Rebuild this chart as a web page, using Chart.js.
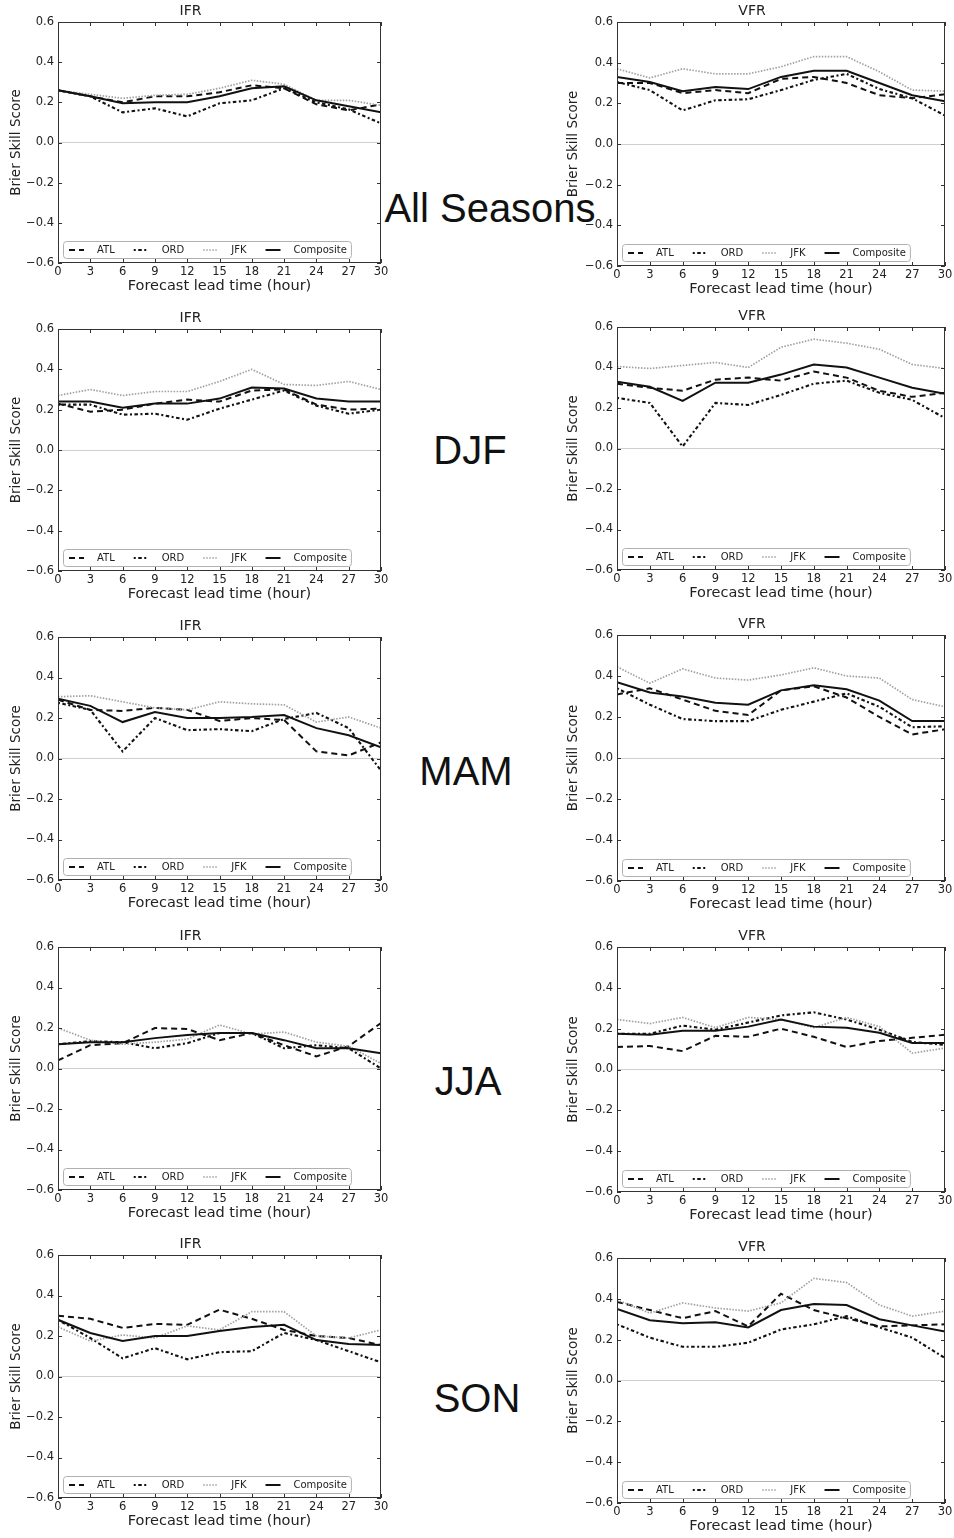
<!DOCTYPE html>
<html>
<head>
<meta charset="utf-8">
<script src="https://cdn.jsdelivr.net/npm/chart.js@4.4.1/dist/chart.umd.min.js"></script>
<style>
  html, body { margin: 0; padding: 0; background: #ffffff; }
  body { width: 954px; height: 1538px; position: relative; overflow: hidden; }
  canvas { position: absolute; }
  .season { position: absolute; font-family: "Liberation Sans", Arial, sans-serif; font-size: 40px; color: #111; transform: translate(-50%, -50%); white-space: nowrap; }
</style>
</head>
<body>
<div class="season" style="left:490px; top:208px;">All Seasons</div>
<div class="season" style="left:470px; top:450px;">DJF</div>
<div class="season" style="left:466px; top:771px;">MAM</div>
<div class="season" style="left:468px; top:1081px;">JJA</div>
<div class="season" style="left:477px; top:1398px;">SON</div>
<script>
// ---------- data ----------
const hours = [0, 3, 6, 9, 12, 15, 18, 21, 24, 27, 30];
const seriesNames = ["ATL", "ORD", "JFK", "Composite"];
const panelTitles = ["IFR", "VFR"];
const seasonNames = ["All Seasons", "DJF", "MAM", "JJA", "SON"];

// All Seasons - IFR
const allIFR_ATL  = [0.26, 0.23, 0.20, 0.23, 0.23, 0.25, 0.285, 0.27, 0.19, 0.16, 0.19];
const allIFR_ORD  = [0.26, 0.23, 0.15, 0.17, 0.13, 0.195, 0.21, 0.27, 0.20, 0.165, 0.095];
const allIFR_JFK  = [0.26, 0.24, 0.22, 0.235, 0.24, 0.27, 0.31, 0.29, 0.21, 0.21, 0.185];
const allIFR_COMP = [0.26, 0.23, 0.195, 0.20, 0.20, 0.23, 0.27, 0.28, 0.21, 0.18, 0.15];
// All Seasons - VFR
const allVFR_ATL  = [0.30, 0.30, 0.25, 0.265, 0.25, 0.32, 0.33, 0.30, 0.24, 0.225, 0.245];
const allVFR_ORD  = [0.305, 0.265, 0.165, 0.215, 0.22, 0.265, 0.315, 0.345, 0.27, 0.225, 0.14];
const allVFR_JFK  = [0.37, 0.325, 0.37, 0.345, 0.345, 0.38, 0.43, 0.43, 0.355, 0.265, 0.26];
const allVFR_COMP = [0.33, 0.305, 0.26, 0.28, 0.27, 0.33, 0.36, 0.36, 0.30, 0.24, 0.21];
// DJF - IFR
const djfIFR_ATL  = [0.23, 0.19, 0.20, 0.23, 0.25, 0.24, 0.295, 0.30, 0.225, 0.20, 0.205];
const djfIFR_ORD  = [0.225, 0.225, 0.175, 0.18, 0.15, 0.205, 0.25, 0.295, 0.22, 0.18, 0.20];
const djfIFR_JFK  = [0.27, 0.30, 0.27, 0.29, 0.29, 0.34, 0.40, 0.325, 0.32, 0.34, 0.30];
const djfIFR_COMP = [0.24, 0.24, 0.21, 0.23, 0.23, 0.255, 0.31, 0.305, 0.255, 0.24, 0.24];
// DJF - VFR
const djfVFR_ATL  = [0.32, 0.30, 0.285, 0.34, 0.35, 0.335, 0.38, 0.35, 0.285, 0.255, 0.275];
const djfVFR_ORD  = [0.25, 0.225, 0.01, 0.225, 0.215, 0.265, 0.32, 0.335, 0.275, 0.24, 0.15];
const djfVFR_JFK  = [0.405, 0.395, 0.41, 0.425, 0.40, 0.50, 0.54, 0.52, 0.49, 0.415, 0.395];
const djfVFR_COMP = [0.33, 0.305, 0.235, 0.325, 0.325, 0.365, 0.415, 0.40, 0.35, 0.30, 0.27];
// MAM - IFR
const mamIFR_ATL  = [0.29, 0.24, 0.235, 0.25, 0.24, 0.185, 0.20, 0.19, 0.035, 0.015, 0.08];
const mamIFR_ORD  = [0.275, 0.24, 0.035, 0.20, 0.14, 0.145, 0.135, 0.195, 0.225, 0.15, -0.06];
const mamIFR_JFK  = [0.305, 0.31, 0.28, 0.25, 0.24, 0.28, 0.27, 0.265, 0.18, 0.205, 0.15];
const mamIFR_COMP = [0.295, 0.26, 0.18, 0.23, 0.20, 0.20, 0.205, 0.215, 0.15, 0.115, 0.055];
// MAM - VFR
const mamVFR_ATL  = [0.31, 0.34, 0.285, 0.23, 0.21, 0.33, 0.35, 0.295, 0.20, 0.115, 0.14];
const mamVFR_ORD  = [0.34, 0.26, 0.19, 0.18, 0.18, 0.235, 0.275, 0.315, 0.25, 0.15, 0.155];
const mamVFR_JFK  = [0.445, 0.365, 0.435, 0.39, 0.38, 0.405, 0.44, 0.40, 0.39, 0.285, 0.25];
const mamVFR_COMP = [0.37, 0.32, 0.30, 0.27, 0.26, 0.33, 0.355, 0.335, 0.28, 0.18, 0.18];
// JJA - IFR
const jjaIFR_ATL  = [0.04, 0.115, 0.125, 0.20, 0.195, 0.14, 0.175, 0.115, 0.06, 0.11, 0.225];
const jjaIFR_ORD  = [0.12, 0.135, 0.13, 0.10, 0.125, 0.175, 0.175, 0.10, 0.115, 0.10, 0.0];
const jjaIFR_JFK  = [0.20, 0.14, 0.12, 0.13, 0.145, 0.215, 0.17, 0.18, 0.13, 0.11, 0.025];
const jjaIFR_COMP = [0.12, 0.13, 0.13, 0.15, 0.165, 0.175, 0.175, 0.14, 0.10, 0.10, 0.075];
// JJA - VFR
const jjaVFR_ATL  = [0.11, 0.115, 0.09, 0.165, 0.16, 0.20, 0.16, 0.11, 0.14, 0.155, 0.17];
const jjaVFR_ORD  = [0.175, 0.175, 0.215, 0.195, 0.23, 0.265, 0.28, 0.245, 0.195, 0.135, 0.12];
const jjaVFR_JFK  = [0.245, 0.225, 0.255, 0.205, 0.255, 0.245, 0.205, 0.255, 0.21, 0.08, 0.105];
const jjaVFR_COMP = [0.175, 0.17, 0.19, 0.19, 0.21, 0.245, 0.21, 0.205, 0.18, 0.13, 0.13];
// SON - IFR
const sonIFR_ATL  = [0.30, 0.285, 0.24, 0.26, 0.255, 0.33, 0.285, 0.23, 0.20, 0.19, 0.155];
const sonIFR_ORD  = [0.28, 0.19, 0.09, 0.14, 0.085, 0.12, 0.125, 0.215, 0.18, 0.125, 0.07];
const sonIFR_JFK  = [0.245, 0.175, 0.205, 0.19, 0.25, 0.23, 0.32, 0.32, 0.20, 0.19, 0.23];
const sonIFR_COMP = [0.28, 0.215, 0.175, 0.20, 0.20, 0.225, 0.245, 0.255, 0.18, 0.16, 0.155];
// SON - VFR
const sonVFR_ATL  = [0.385, 0.345, 0.305, 0.34, 0.265, 0.425, 0.345, 0.305, 0.265, 0.27, 0.275];
const sonVFR_ORD  = [0.275, 0.21, 0.165, 0.165, 0.185, 0.25, 0.275, 0.315, 0.26, 0.21, 0.11];
const sonVFR_JFK  = [0.395, 0.33, 0.38, 0.355, 0.34, 0.38, 0.50, 0.48, 0.37, 0.315, 0.34];
const sonVFR_COMP = [0.35, 0.295, 0.28, 0.285, 0.26, 0.345, 0.375, 0.37, 0.30, 0.27, 0.24];

const panelData = [
  [[allIFR_ATL, allIFR_ORD, allIFR_JFK, allIFR_COMP], [allVFR_ATL, allVFR_ORD, allVFR_JFK, allVFR_COMP]],
  [[djfIFR_ATL, djfIFR_ORD, djfIFR_JFK, djfIFR_COMP], [djfVFR_ATL, djfVFR_ORD, djfVFR_JFK, djfVFR_COMP]],
  [[mamIFR_ATL, mamIFR_ORD, mamIFR_JFK, mamIFR_COMP], [mamVFR_ATL, mamVFR_ORD, mamVFR_JFK, mamVFR_COMP]],
  [[jjaIFR_ATL, jjaIFR_ORD, jjaIFR_JFK, jjaIFR_COMP], [jjaVFR_ATL, jjaVFR_ORD, jjaVFR_JFK, jjaVFR_COMP]],
  [[sonIFR_ATL, sonIFR_ORD, sonIFR_JFK, sonIFR_COMP], [sonVFR_ATL, sonVFR_ORD, sonVFR_JFK, sonVFR_COMP]]
];

// ---------- layout (plot area rectangles) ----------
const colLeft  = [58, 617];
const colRight = [381, 945];
const rowTops    = [[22, 22], [329, 327], [637, 635], [947, 947], [1255, 1258]];
const rowBottoms = [[263, 266], [571, 570], [880, 881], [1190, 1192], [1498, 1503]];

const styles = [
  { color: "#111111", dash: [6, 4], width: 2 },
  { color: "#111111", dash: [2, 2.5, 3.5, 2.5], width: 2.1 },
  { color: "#a0a0a0", dash: [1.5, 1.5], width: 1.7 },
  { color: "#111111", dash: [], width: 2 }
];

const FONT = "'DejaVu Sans', Verdana, sans-serif";
const TXT = "#222222";
const AXIS_W = 58, TITLE_H = 22, XAXIS_H = 32, PAD_R = 12;

const framePlugin = {
  id: "frame",
  afterDraw(chart) {
    const { ctx, chartArea: a, scales } = chart;
    ctx.save();
    ctx.strokeStyle = "#333333";
    ctx.lineWidth = 1;
    ctx.beginPath();
    scales.x.ticks.forEach(t => {
      const px = Math.round(scales.x.getPixelForValue(t.value)) + 0.5;
      ctx.moveTo(px, a.bottom); ctx.lineTo(px, a.bottom - 4);
      ctx.moveTo(px, a.top); ctx.lineTo(px, a.top + 4);
    });
    scales.y.ticks.forEach(t => {
      const py = Math.round(scales.y.getPixelForValue(t.value)) + 0.5;
      ctx.moveTo(a.left, py); ctx.lineTo(a.left + 4, py);
      ctx.moveTo(a.right, py); ctx.lineTo(a.right - 4, py);
    });
    ctx.stroke();
    ctx.strokeRect(Math.round(a.left) + 0.5, Math.round(a.top) + 0.5, Math.round(a.right - a.left) - 1, Math.round(a.bottom - a.top) - 1);
    ctx.restore();
  }
};

const legendPlugin = {
  id: "insideLegend",
  afterDatasetsDraw(chart) {
    const { ctx, chartArea: a } = chart;
    const ds = chart.data.datasets;
    ctx.save();
    ctx.font = "10px " + FONT;
    const padL = 6, padR = 4, sample = 15, gap = 13, itemGap = 19, h = 17;
    let w = padL + padR;
    ds.forEach((d, i) => { w += sample + gap + ctx.measureText(d.label).width + (i < ds.length - 1 ? itemGap : 0); });
    const x0 = a.left + 5, y0 = a.bottom - 5 - h;
    ctx.fillStyle = "rgba(255,255,255,0.85)";
    ctx.strokeStyle = "#b0b0b0";
    ctx.lineWidth = 1;
    ctx.beginPath();
    if (ctx.roundRect) ctx.roundRect(x0 + 0.5, y0 + 0.5, w, h, 3); else ctx.rect(x0 + 0.5, y0 + 0.5, w, h);
    ctx.fill(); ctx.stroke();
    let x = x0 + padL;
    const cy = y0 + h / 2 + 0.5;
    ds.forEach((d) => {
      ctx.beginPath();
      ctx.strokeStyle = d.borderColor;
      ctx.lineWidth = d.borderWidth;
      ctx.setLineDash(d.borderDash || []);
      ctx.moveTo(x, cy); ctx.lineTo(x + sample, cy);
      ctx.stroke();
      ctx.setLineDash([]);
      x += sample + gap;
      ctx.fillStyle = TXT;
      ctx.textBaseline = "middle";
      ctx.textAlign = "left";
      ctx.fillText(d.label, x, cy);
      x += ctx.measureText(d.label).width + itemGap;
    });
    ctx.restore();
  }
};

function fmt(v) {
  const r = Math.round(v * 10) / 10;
  if (r === 0) return "0.0";
  return (r < 0 ? "\u2212" : "") + Math.abs(r).toFixed(1);
}

for (let r = 0; r < 5; r++) {
  for (let c = 0; c < 2; c++) {
    const top = rowTops[r][c], bottom = rowBottoms[r][c];
    const plotW = colRight[c] - colLeft[c];
    const plotH = bottom - top;
    const cv = document.createElement("canvas");
    const W = AXIS_W + plotW + PAD_R;
    const H = TITLE_H + plotH + XAXIS_H;
    cv.width = W; cv.height = H;
    cv.style.left = (colLeft[c] - AXIS_W) + "px";
    cv.style.top = (top - TITLE_H) + "px";
    cv.style.width = W + "px"; cv.style.height = H + "px";
    document.body.appendChild(cv);

    const datasets = seriesNames.map((name, i) => ({
      label: name,
      data: hours.map((h, k) => ({ x: h, y: panelData[r][c][i][k] })),
      borderColor: styles[i].color,
      borderDash: styles[i].dash,
      borderWidth: styles[i].width,
      pointRadius: 0,
      tension: 0,
      fill: false,
      order: 3 - i
    }));

    new Chart(cv, {
      type: "line",
      data: { datasets },
      options: {
        responsive: false,
        animation: false,
        devicePixelRatio: 1,
        layout: { padding: { left: 0, right: PAD_R, top: 0, bottom: 0 } },
        plugins: {
          legend: { display: false },
          tooltip: { enabled: false },
          title: {
            display: true,
            text: panelTitles[c],
            color: TXT,
            font: { family: FONT, size: 14, weight: "normal", lineHeight: 1.2 },
            padding: { top: 3, bottom: 2.2 }
          }
        },
        scales: {
          x: {
            type: "linear",
            min: 0, max: 30,
            border: { display: false },
            grid: { display: false, drawTicks: false },
            ticks: { stepSize: 3, color: TXT, padding: 2, font: { family: FONT, size: 11.5 }, maxRotation: 0 },
            title: { display: true, text: "Forecast lead time (hour)", color: TXT, font: { family: FONT, size: 14.5 }, padding: { top: 0, bottom: 0 } },
            afterFit: s => { s.height = XAXIS_H; }
          },
          y: {
            min: -0.6, max: 0.6,
            border: { display: false },
            grid: {
              drawTicks: false,
              color: ctx => (ctx.tick && Math.abs(ctx.tick.value) < 1e-9 ? "#cfcfcf" : "rgba(0,0,0,0)"),
              lineWidth: 1
            },
            ticks: { stepSize: 0.2, color: TXT, padding: 4, font: { family: FONT, size: 11.5 }, callback: v => fmt(v) },
            title: { display: true, text: "Brier Skill Score", color: TXT, font: { family: FONT, size: 13.5 }, padding: { top: c === 0 ? 8 : 6, bottom: 0 } },
            afterFit: s => { s.width = AXIS_W; }
          }
        }
      },
      plugins: [legendPlugin, framePlugin]
    });
  }
}
</script>
</body>
</html>
